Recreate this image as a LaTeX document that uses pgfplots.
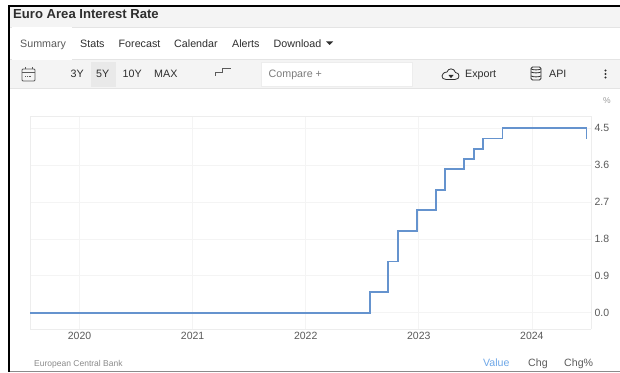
\documentclass[border=0pt]{standalone}
\usepackage{fontspec}
\setmainfont{Liberation Sans}
\usepackage{pgfplots}
\pgfplotsset{compat=1.18}
\definecolor{band}{HTML}{F4F4F4}
\definecolor{rule}{HTML}{E4E4E4}
\definecolor{frame}{HTML}{EDEDED}
\definecolor{hilite}{HTML}{E9E9E9}
\definecolor{ink}{HTML}{2E2E2E}
\definecolor{soft}{HTML}{5A5A5A}
\definecolor{gridc}{HTML}{F4F4F4}
\definecolor{rate}{HTML}{6593CE}
\definecolor{active}{HTML}{6FA8E8}
\begin{document}
\begin{tikzpicture}[x=1pt,y=1pt]
  % page and panel chrome
  \fill[white] (0,0) rectangle (620,372);
  \fill[band] (9,345) rectangle (620,365);
  \fill[rule] (9,344) rectangle (620,345);
  \fill[band] (9,283) rectangle (620,312);
  \fill[rule] (9,311.5) rectangle (620,312.5);
  \fill[rule] (9,283) rectangle (620,283.8);
  \fill[white] (12,312) rectangle (72,344.5);
  \fill[hilite] (91,285) rectangle (116,310);
  \fill[white] (261,286) rectangle (412,310);
  \draw[frame,line width=.7pt] (261,286) rectangle (412,310);
  \fill[black] (8,365) rectangle (620,367);
  \fill[black] (8,0) rectangle (10,367);
  \fill[soft!70] (10,0) rectangle (620,1.3);

  % header and tab texts
  \node[anchor=base west,font=\fontsize{13.1}{15}\selectfont\bfseries,text=ink,inner sep=0pt] at (13,353) {Euro Area Interest Rate};
  \begin{scope}[every node/.style={anchor=base west,inner sep=0pt,font=\fontsize{10.7}{12}\selectfont,text=ink}]
    \node[text=soft] at (20,324.5) {Summary};
    \node at (80,324.5) {Stats};
    \node at (118.5,324.5) {Forecast};
    \node at (174,324.5) {Calendar};
    \node at (232,324.5) {Alerts};
    \node at (273.5,324.5) {Download};
    \node at (70.5,294) {3Y};
    \node at (96,294) {5Y};
    \node at (122.5,294) {10Y};
    \node at (154,294) {MAX};
    \node[text=soft!80] at (268.5,294.5) {Compare +};
    \node at (465,294) {Export};
    \node at (549,294) {API};
  \end{scope}
  \fill[ink] (326,330.5) -- (333,330.5) -- (329.5,327) -- cycle;

  % toolbar icons
  \draw[soft,line width=.9pt,rounded corners=1pt] (22,291) rectangle (35,303);
  \draw[soft,line width=.9pt] (22,300) -- (35,300) (25,303) -- (25,304.5) (32,303) -- (32,304.5);
  \draw[soft,line width=.8pt,dash pattern=on 1pt off .8pt] (25,296) -- (32,296);
  \draw[soft,line width=.7pt] (215,296) -- (215,299.5) -- (222.5,299.5) -- (222.5,303.5) -- (231,303.5);
  \draw[ink,line width=.8pt] (446,292.5) -- (455,292.5) .. controls (460.5,292.5) and (460,299.5) .. (455.5,299.5)
     .. controls (454,304.5) and (448,304) .. (447,300) .. controls (440.5,299.5) and (440.5,292.5) .. (446,292.5) -- cycle;
  \fill[ink] (448.5,297) -- (453.5,297) -- (451,293.8) -- cycle;
  \draw[ink,line width=.8pt,rounded corners=1.5pt] (531,292) rectangle (541,305);
  \draw[ink,line width=.8pt] (531,296) .. controls (534,294.8) and (538,294.8) .. (541,296)
     (531,300) .. controls (534,298.8) and (538,298.8) .. (541,300)
     (531,303) .. controls (534,301.8) and (538,301.8) .. (541,303);
  \foreach \yy in {294.5,298,301.5} \fill[ink] (605.5,\yy) circle (1.1);
  \node[anchor=base,font=\fontsize{8.5}{10}\selectfont,text=soft!60,inner sep=0pt] at (607,268) {\%};

  % footer
  \node[anchor=base west,font=\fontsize{8.5}{10}\selectfont,text=soft!70,inner sep=0pt] at (34,6) {European Central Bank};
  \begin{scope}[every node/.style={anchor=base west,inner sep=0pt,font=\fontsize{10.6}{12}\selectfont}]
    \node[text=active] at (483,5.5) {Value};
    \node[text=soft] at (528,5.5) {Chg};
    \node[text=soft] at (564,5.5) {Chg\%};
  \end{scope}

  % rate series
  \begin{axis}[
    at={(30pt,43pt)}, anchor=south west,
    scale only axis, width=561pt, height=213pt,
    xmin=2019.562, xmax=2024.523,
    ymin=-0.4, ymax=4.8,
    axis line style={draw=frame,line width=.6pt},
    axis x line*=bottom, axis y line*=right,
    xtick={2020,2021,2022,2023,2024},
    ytick={0,0.9,1.8,2.7,3.6,4.5},
    tick style={draw=none},
    grid=major,
    major grid style={draw=gridc,line width=.6pt},
    x tick label style={/pgf/number format/1000 sep={},font=\fontsize{10.5}{12}\selectfont,text=soft},
    y tick label style={/pgf/number format/fixed,/pgf/number format/fixed zerofill,/pgf/number format/precision=1,font=\fontsize{10.5}{12}\selectfont,text=soft},
    /pgf/number format/assume math mode=true,
    clip=false,
  ]
    \draw[frame,line width=.6pt] (axis cs:2019.562,4.8) -- (axis cs:2024.523,4.8);
    \draw[frame,line width=.6pt] (axis cs:2019.562,-0.4) -- (axis cs:2019.562,4.8);
    \addplot[const plot, rate, line width=1.8pt, line join=miter] table {
      x y
      2019.562 0
      2022.570 0.5
      2022.730 1.25
      2022.815 2.0
      2022.985 2.5
      2023.150 3.0
      2023.235 3.5
      2023.400 3.75
      2023.485 4.0
      2023.570 4.25
      2023.740 4.5
      2024.484 4.25
    };
  \end{axis}
\end{tikzpicture}
\end{document}
